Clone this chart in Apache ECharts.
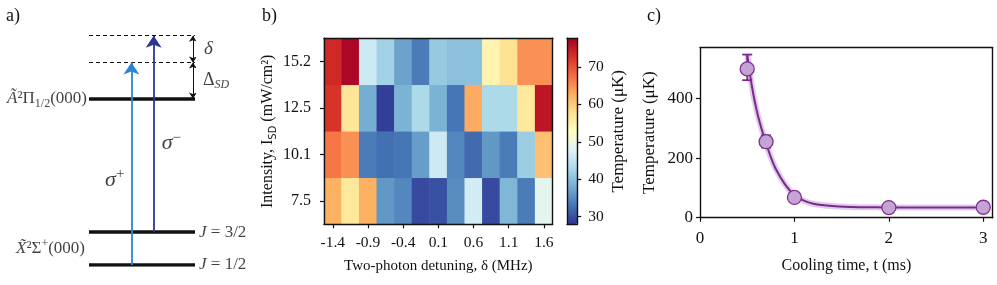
<!DOCTYPE html>
<html><head><meta charset="utf-8">
<script src="https://cdn.jsdelivr.net/npm/echarts@6/dist/echarts.min.js"></script>
<style>html,body{margin:0;padding:0;background:#fff}#c{width:997px;height:285px}</style>
</head><body><div id="c"></div>
<script>
// ---------- Panel b data ----------
const detuning = ['-1.4','-1.15','-0.9','-0.65','-0.4','-0.15','0.1','0.35','0.6','0.85','1.1','1.35','1.6'];
const intensity = ['7.5','10.1','12.5','15.2'];
const temp_7_5  = [62.5,56.5,62.5,36,34.5,29.5,30,35,46.5,29.5,39,33.5,48.5];
const temp_10_1 = [67,65,33.5,32.5,33,36.5,46,34.5,32,36,33.5,41.5,61];
const temp_12_5 = [72.5,57,38,28.5,38.5,43,38.5,33,63,43,43,56.5,75.5];
const temp_15_2 = [73.5,77,46,42,37,33.5,41,40,40,54.5,57.5,65,65];
const colorbarTicks = [30,40,50,60,70];
const colorMin = 27.9, colorMax = 77.7;
// ---------- Panel c data ----------
const coolTime = [0.5,0.7,1,2,3];
const coolTemp = [499,255,68,34,35];
const coolErrLow = [461,235,63,31,32];
const coolErrHigh = [547,276,73,37,38];
const fitTime = [0.5,0.55,0.6,0.65,0.7,0.75,0.8,0.9,1.0,1.1,1.2,1.4,1.6,1.8,2.0,2.5,3.0];
const fitTemp = [548,440,360,300,250,203,165,112,76,57,47,39,36,35,34,34,34];
// ---------- Panel a (level diagram, diagram units) ----------
const levelY = [0, 1, 5.08];          // J=1/2, J=3/2, A state
const virtualY = [6.18, 7.0];         // virtual levels (dashed)
const sigmaPlusX = 4.0, sigmaMinusX = 6.1, splitX = 9.8;

const F = "'Liberation Serif','Times New Roman',serif";
const heatData = [];
[temp_7_5,temp_10_1,temp_12_5,temp_15_2].forEach((row,yi)=>row.forEach((v,xi)=>heatData.push([xi,yi,v])));

const rich = {
  n:{fontFamily:F,fontSize:17,color:'#111',lineHeight:22},
  it:{fontFamily:F,fontSize:17,fontStyle:'italic',color:'#111',lineHeight:22},
  sub:{fontFamily:F,fontSize:12,color:'#111',lineHeight:12,verticalAlign:'bottom'},
  subit:{fontFamily:F,fontSize:12,fontStyle:'italic',color:'#111',lineHeight:12,verticalAlign:'bottom'},
  sup:{fontFamily:F,fontSize:12,color:'#111',lineHeight:12,verticalAlign:'top'},
  big:{fontFamily:F,fontSize:22,fontStyle:'italic',color:'#111',lineHeight:26},
  bigsup:{fontFamily:F,fontSize:15,color:'#111',lineHeight:12,verticalAlign:'top'},
  mid:{fontFamily:F,fontSize:19,fontStyle:'italic',color:'#111',lineHeight:22},
  midn:{fontFamily:F,fontSize:18,color:'#111',lineHeight:22}
};
function lbl(x,y,text,pos,dist){return {value:[x,y],label:{show:true,position:pos,distance:dist,formatter:text,rich:rich}};}

const frameLine = {show:true,onZero:false,lineStyle:{color:'#111',width:1.4}};
const tickStyle = {show:true,length:4,lineStyle:{color:'#111',width:1.2}};
const tickLbl = (fs)=>({color:'#111',fontFamily:F,fontSize:fs});
const noTick = {show:false}, noLbl = {show:false}, noSplit = {show:false};

const chart = echarts.init(document.getElementById('c'),null,{renderer:'canvas'});
chart.setOption({
  animation:false,
  backgroundColor:'#fff',
  title:[
    {text:'a)',left:1,top:2,textStyle:{fontFamily:F,fontSize:18,fontWeight:'normal',color:'#111'}},
    {text:'b)',left:257,top:2,textStyle:{fontFamily:F,fontSize:18,fontWeight:'normal',color:'#111'}},
    {text:'c)',left:642,top:2,textStyle:{fontFamily:F,fontSize:18,fontWeight:'normal',color:'#111'}}
  ],
  grid:[
    {left:89,top:35.7,width:106,height:229.3},
    {left:324,top:38.3,width:228.7,height:186},
    {left:567,top:38.3,width:10.3,height:186},
    {left:700,top:47.7,width:292.7,height:170}
  ],
  xAxis:[
    {gridIndex:0,type:'value',min:0,max:10,show:false},
    {gridIndex:1,type:'category',data:detuning,z:10,axisLine:frameLine,axisTick:Object.assign({interval:1,alignWithLabel:true},tickStyle),
      axisLabel:Object.assign({interval:1,margin:11},tickLbl(15.5)),splitLine:noSplit,
      name:'Two-photon detuning, δ (MHz)',nameLocation:'middle',nameGap:34,nameTextStyle:{fontFamily:F,fontSize:15,color:'#111'}},
    {gridIndex:1,type:'category',data:detuning,position:'top',z:10,axisLine:frameLine,axisTick:noTick,axisLabel:noLbl},
    {gridIndex:2,type:'value',min:0,max:1,position:'bottom',z:10,axisLine:frameLine,axisTick:noTick,axisLabel:noLbl,splitLine:noSplit},
    {gridIndex:2,type:'value',min:0,max:1,position:'top',z:10,axisLine:frameLine,axisTick:noTick,axisLabel:noLbl,splitLine:noSplit},
    {gridIndex:3,type:'value',min:0,max:3.1,interval:1,z:10,axisLine:frameLine,axisTick:tickStyle,
      axisLabel:Object.assign({margin:12,showMaxLabel:false},tickLbl(17)),splitLine:noSplit,
      name:'Cooling time, t (ms)',nameLocation:'middle',nameGap:40,nameTextStyle:{fontFamily:F,fontSize:16,color:'#111'}},
    {gridIndex:3,type:'value',min:0,max:3.1,position:'top',z:10,axisLine:frameLine,axisTick:noTick,axisLabel:noLbl,splitLine:noSplit}
  ],
  yAxis:[
    {gridIndex:0,type:'value',min:0,max:7.0,show:false},
    {gridIndex:1,type:'category',data:intensity,z:10,axisLine:frameLine,axisTick:Object.assign({alignWithLabel:true},tickStyle),
      axisLabel:Object.assign({margin:13},tickLbl(16)),splitLine:noSplit,
      name:'{a|Intensity, I}{s|SD}{a| (mW/cm²)}',nameLocation:'middle',nameGap:46,nameRotate:90,
      nameTextStyle:{fontFamily:F,fontSize:16,color:'#111',rich:{a:{fontFamily:F,fontSize:16,color:'#111',lineHeight:20},s:{fontFamily:'DejaVu Sans',fontSize:10,color:'#111',lineHeight:12,verticalAlign:'bottom'}}}},
    {gridIndex:1,type:'category',data:intensity,position:'right',z:10,axisLine:frameLine,axisTick:noTick,axisLabel:noLbl},
    {gridIndex:2,type:'value',min:colorMin,max:colorMax,position:'left',z:10,axisLine:frameLine,axisTick:noTick,axisLabel:noLbl,splitLine:noSplit},
    {gridIndex:2,type:'value',min:colorMin,max:colorMax,position:'right',z:10,axisLine:frameLine,
      axisTick:Object.assign({customValues:colorbarTicks},tickStyle),
      axisLabel:Object.assign({customValues:colorbarTicks,margin:11},tickLbl(15.5)),splitLine:noSplit,
      name:'Temperature (μK)',nameLocation:'middle',nameGap:33,nameRotate:90,nameTextStyle:{fontFamily:F,fontSize:17,color:'#111'}},
    {gridIndex:3,type:'value',min:0,max:570,interval:200,z:10,axisLine:frameLine,axisTick:tickStyle,
      axisLabel:Object.assign({margin:7,showMaxLabel:false},tickLbl(17)),splitLine:noSplit,
      name:'Temperature (μK)',nameLocation:'middle',nameGap:42,nameRotate:90,nameTextStyle:{fontFamily:F,fontSize:17,color:'#111'}},
    {gridIndex:3,type:'value',min:0,max:570,position:'right',z:10,axisLine:frameLine,axisTick:noTick,axisLabel:noLbl,splitLine:noSplit}
  ],
  visualMap:{
    type:'continuous',min:colorMin,max:colorMax,seriesIndex:5,calculable:false,orient:'vertical',
    left:567,top:38.3,itemWidth:10.3,itemHeight:186,padding:0,text:null,showLabel:false,
    inRange:{color:['#313695','#4575b4','#74add1','#abd9e9','#e0f3f8','#ffffbf','#fee090','#fdae61','#f46d43','#d73027','#a50026']}
  },
  series:[
    {type:'lines',coordinateSystem:'cartesian2d',xAxisIndex:0,yAxisIndex:0,symbol:'none',
      lineStyle:{color:'#111',width:3.6,opacity:1},
      data:levelY.map(y=>({coords:[[0,y],[10,y]]}))},
    {type:'lines',coordinateSystem:'cartesian2d',xAxisIndex:0,yAxisIndex:0,symbol:'none',
      lineStyle:{color:'#111',width:1.2,type:[4,3],opacity:1},
      data:virtualY.map(y=>({coords:[[0,y],[10,y]]}))},
    {type:'lines',coordinateSystem:'cartesian2d',xAxisIndex:0,yAxisIndex:0,symbol:['none','arrow'],symbolSize:12,
      data:[
        {coords:[[sigmaPlusX,levelY[0]],[sigmaPlusX,virtualY[0]]],lineStyle:{color:'#2a86d2',width:1.8,opacity:1}},
        {coords:[[sigmaMinusX,levelY[1]],[sigmaMinusX,virtualY[1]]],lineStyle:{color:'#2c3590',width:1.8,opacity:1}}
      ]},
    {type:'lines',coordinateSystem:'cartesian2d',xAxisIndex:0,yAxisIndex:0,symbol:['arrow','arrow'],symbolSize:6,
      lineStyle:{color:'#111',width:1,opacity:1},
      data:[{coords:[[splitX,virtualY[1]],[splitX,virtualY[0]]]},{coords:[[splitX,virtualY[0]],[splitX,levelY[2]]]}]},
    {type:'scatter',xAxisIndex:0,yAxisIndex:0,symbolSize:0,silent:true,
      data:[
        lbl(0,levelY[2],'{it|Ã}{n|²Π}{sub|1/2}{n|(000)}','left',2),
        lbl(0,0.5,'{it|X\u0303}{n|²Σ}{sup|+}{n|(000)}','left',4),
        lbl(10,levelY[1],'{it|J}{n| = 3/2}','right',4),
        lbl(10,levelY[0],'{it|J}{n| = 1/2}','right',4),
        lbl(sigmaPlusX,2.6,'{big|σ}{bigsup|+}','left',7),
        lbl(sigmaMinusX,3.72,'{big|σ}{bigsup|−}','right',8),
        lbl(splitX,6.6,'{mid|δ}','right',11),
        lbl(splitX,5.65,'{midn|Δ}{subit|SD}','right',10)
      ]},
    {type:'heatmap',xAxisIndex:1,yAxisIndex:1,data:heatData,itemStyle:{borderWidth:0}},
    {type:'line',xAxisIndex:5,yAxisIndex:5,data:fitTime.map((t,i)=>[t,fitTemp[i]]),smooth:0.3,symbol:'none',
      lineStyle:{color:'rgba(165,110,195,0.35)',width:6},z:2},
    {type:'line',xAxisIndex:5,yAxisIndex:5,data:fitTime.map((t,i)=>[t,fitTemp[i]]),smooth:0.3,symbol:'none',
      lineStyle:{color:'#7b2a8c',width:2},z:3},
    {type:'custom',xAxisIndex:5,yAxisIndex:5,z:4,
      data:coolTime.map((t,i)=>[t,coolErrLow[i],coolErrHigh[i]]),
      renderItem:function(params,api){
        const lo=api.coord([api.value(0),api.value(1)]);
        const hi=api.coord([api.value(0),api.value(2)]);
        const w=5;
        const st={stroke:'#7b2a8c',lineWidth:1.8};
        return {type:'group',children:[
          {type:'line',shape:{x1:lo[0],y1:lo[1],x2:hi[0],y2:hi[1]},style:st},
          {type:'line',shape:{x1:lo[0]-w,y1:lo[1],x2:lo[0]+w,y2:lo[1]},style:st},
          {type:'line',shape:{x1:hi[0]-w,y1:hi[1],x2:hi[0]+w,y2:hi[1]},style:st}
        ]};
      }},
    {type:'scatter',xAxisIndex:5,yAxisIndex:5,z:5,symbolSize:14,data:coolTime.map((t,i)=>[t,coolTemp[i]]),
      itemStyle:{color:'#c5a3d5',borderColor:'#7e3294',borderWidth:1.3,opacity:1}}
  ]
});
</script></body></html>
